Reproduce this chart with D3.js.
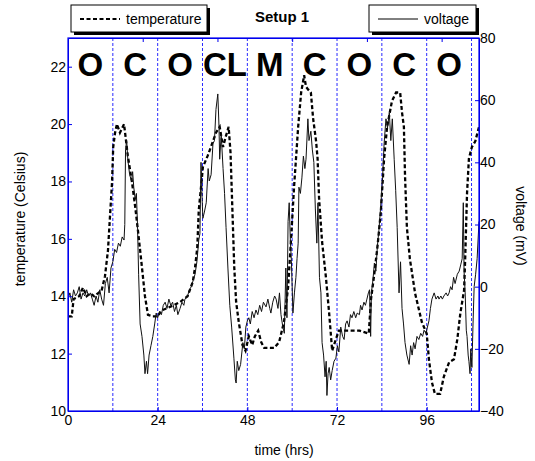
<!DOCTYPE html>
<html>
<head>
<meta charset="utf-8">
<script src="https://cdn.jsdelivr.net/npm/d3@7"></script>
<style>
  body { margin: 0; background: #fff; }
  svg { display: block; font-family: Arial, "Liberation Sans", sans-serif; }
</style>
</head>
<body>
<div id="chart"></div>
<script>
// temperature (dashed, left axis)
var tempHours = [0, 1, 1.5, 3, 4, 5, 6, 7, 8, 9, 9.9, 10.7, 11.2, 11.8, 12.1, 12.6, 13.1, 13.9, 15, 16, 17.1, 18, 18.8, 19.8, 20.6, 21.4, 22.7,
  24, 25, 26.8, 28.5, 30, 32, 33.4, 34, 34.6, 35, 35.6, 36.1, 37.4, 38.8, 39.6, 40.6, 41.5, 42.3, 43, 43.5, 44, 44.5, 45, 45.7, 46.7, 47.5,
  48.4, 49.3, 50, 50.9, 51.7, 52.5, 54, 55.2, 56.5, 57.8, 58.9, 59.7, 60.5, 61.6, 62.4, 63.2, 63.7, 64.3, 65, 65.6, 66.4, 66.8, 67.2, 68,
  69, 69.9, 70.7, 71.7, 72.5, 73.9, 76, 78, 80.5, 81.1, 82, 82.8, 83.7, 84.6, 85.4, 86.7, 87.8, 88.9, 89.4, 89.9, 90.2, 90.7, 91.5, 92.9,
  94.7, 96, 96.6, 97.4, 98.2, 99.6, 100.6, 102, 103.3, 104.2, 105, 106, 106.3, 106.8, 107.3, 108.1, 109, 110];
var tempValues = [13.3, 13.3, 13.9, 14.0, 14.3, 14.0, 14.1, 14.0, 14.1, 14.2, 14.7, 15.6, 16.7, 18.0, 19.2, 19.7, 20.0, 19.7, 20.0, 18.9, 18.0, 17.1, 16.2, 15.0, 14.0, 13.35, 13.3,
  13.3, 13.5, 13.6, 13.7, 13.8, 14.0, 14.5, 15.0, 15.7, 17.0, 17.8, 18.5, 18.9, 19.4, 19.7, 19.9, 19.2, 19.6, 19.9, 19.0, 17.0, 15.0, 13.8, 13.1, 12.3, 12.1,
  12.6, 12.3, 12.6, 12.8, 12.4, 12.2, 12.2, 12.2, 12.4, 13.1, 14.3, 16.0, 17.8, 19.9, 21.1, 21.7, 21.3, 21.2, 21.1, 20.2, 19.4, 18.8, 17.4, 15.9,
  14.7, 13.4, 12.1, 12.5, 12.8, 12.8, 12.8, 12.8, 12.7, 13.9, 14.8, 15.7, 16.9, 18.8, 19.9, 20.8, 21.1, 21.1, 20.4, 19.9, 18.2, 16.4, 15.3, 14.1,
  13.1, 12.7, 11.8, 11.0, 10.6, 10.6, 11.2, 11.7, 11.8, 12.5, 13.4, 14.2, 15.3, 17.6, 18.8, 19.2, 19.4, 19.9];

// voltage (solid, right axis)
var voltHours = [0, 0.5, 1, 1.5, 2, 2.5, 3, 3.5, 4, 4.5, 5, 5.5, 6, 6.5, 7, 7.5, 8, 8.5, 9, 9.5, 10, 10.5, 11, 11.5, 12, 12.5, 13, 13.5, 14, 14.5, 15,
  15.2, 15.4, 15.7, 16, 16.5, 17, 17.3, 17.6, 18, 18.3, 18.6, 18.9, 19.3, 19.8, 20.3, 20.6, 21, 21.3, 21.7, 22.2, 22.7, 23.2, 23.6,
  24, 24.5, 25, 25.5, 26, 26.5, 27, 27.5, 28, 28.5, 29, 29.4, 30, 30.5, 31, 31.3, 32, 32.5, 33, 33.5, 34, 34.5, 35, 35.3, 35.6, 35.9,
  36.1, 36.5, 37, 37.5, 37.8, 38.3, 38.8, 39.2, 39.6, 40.1, 40.4, 40.6, 41, 41.5, 41.9, 42.3, 42.8, 43.3, 43.8, 44.4, 44.8, 45, 45.3,
  45.7, 46.2, 46.8, 47.2, 47.6, 48, 48.4, 48.8, 49.3, 49.8, 50.3, 50.8, 51.3, 51.8, 52.3, 53, 53.5, 54, 54.3, 54.8, 55.3, 55.7, 56.2,
  56.6, 57, 57.5, 57.9, 58.3, 58.6, 58.9, 59.2, 59.5, 59.8, 60.2, 60.6, 61, 61.3, 61.6, 61.8, 62.2, 62.6, 63, 63.4, 63.7, 64.2, 64.5,
  65, 65.4, 65.8, 66.2, 66.6, 66.9, 67.3, 67.7, 68, 68.4, 68.8, 69.1, 69.3, 69.6, 69.9, 70.3, 70.7, 71.2, 71.7, 72.1, 72.5, 73, 73.5,
  73.9, 74.3, 74.7, 75.2, 75.6, 76, 76.5, 77, 77.4, 78, 78.3, 78.7, 79.2, 79.6, 80, 80.4, 80.7, 81, 81.2, 81.6, 82, 82.4, 82.8, 83.2,
  83.7, 84.2, 84.6, 85.1, 85.5, 86, 86.4, 86.8, 87.3, 87.7, 88.1, 88.6, 89, 89.4, 89.8, 90.2, 90.7, 91.3, 91.7, 92.1, 92.5, 92.9, 93.4,
  93.9, 94.4, 94.9, 95.3, 95.8, 96.2, 96.6, 97, 97.4, 98, 98.5, 99, 99.3, 99.8, 100.2, 100.6, 101.2, 101.6, 102, 102.4, 102.8, 103.2,
  103.6, 104.2, 104.7, 105.1, 105.5, 105.8, 106, 106.3, 106.6, 106.8, 107.1, 107.3, 107.6, 107.8, 108.1, 108.4, 108.7, 109.1, 109.5, 110];
var voltValues = [-4, -2, -5, -1, -3, -2, 0, -4, -2, -3, -1, -3, -2, -4, -6, -3, -5, -1, -4, -6, 1, 3, -2, 6, 8, 12, 11, 14, 13, 16, 15,
  20, 44, 47, 41, 36, 34, 37, 32, 28, 30, 20, 4, -12, -16, -22, -28, -24, -28, -22, -19, -16, -12, -8.5,
  -10, -8, -9, -6, -5, -7, -4, -6, -5, -8, -6, -9, -7, -5, -6, -4, -3, -1, 0, 2, 4, 8, 15, 17, 40, 28,
  22, 24, 27, 38, 34, 36, 46, 47, 57, 62, 52, 41, 49, 38, 30, 19, 6, -6, -13, -23, -30, -31, -24,
  -27, -25, -18, -20, -13, -11, -10, -12, -8, -10, -7.5, -9, -6, -8, -5, -6.5, -4, -7, -8.5, -5, -3, -4, -7,
  -2, -9, -13, -15, 6, -10, 21, 27, 15, 8, -8.5, -2, 3, 9, 14, 32, 30, 35, 42, 38, 41, 54, 47,
  50, 44, 40, 25, 14, 27, 3, -2, -18, -22, -29, -24, -35, -28, -26, -30, -27, -24, -23, -19, -21, -13, -16,
  -17, -12, -11, -13, -9, -10, -8, -10, -8.5, -9, -6, -7.5, -5, -6, -4, -2, -1, -16, -2, 2, 7.6, 5, 13, 18,
  26, 35, 46, 54, 51, 56, 47, 54, 41, 31, 19, -2, 8, -7, -12, -18, -22, -25, -19, -22, -18, -20, -16,
  -17, -15, -16, -14, -15, -13, -11, -7, -4, -2, -4, -3, -4, -3, -4, -3, -2, -3, -2, 0, -1, 3,
  1, 4, 5, 7, 9, 27, 5, -2, -14, -16, -22, -24, -28, -20, -26, -12, 0, 4, 9, 21];

var phaseHours = [12, 24, 36, 48, 60, 72, 84, 96, 108];
var phaseLabels = ["O", "C", "O", "CL", "M", "C", "O", "C", "O"];
var xTicks = [0, 24, 48, 72, 96];
var topTicks = [20, 40, 60, 80, 100];
var tempTicks = [10, 12, 14, 16, 18, 20, 22];
var voltTicks = [-40, -20, 0, 20, 40, 60, 80];

var W = 535, H = 461;
var L = 68, R = 479, T = 38, B = 411;
var AXIS_BLUE = "#0000ee";
var GRID_BLUE = "#2a2aff";

var x = d3.scaleLinear().domain([0, 110]).range([L, R]);
var yT = d3.scaleLinear().domain([10, 23]).range([B, T]);
var yV = d3.scaleLinear().domain([-40, 80]).range([B, T]);

var svg = d3.select("#chart").append("svg")
  .attr("width", W)
  .attr("height", H);

// phase grid lines
svg.append("g").selectAll("line")
  .data(phaseHours)
  .enter().append("line")
  .attr("x1", d => x(d)).attr("x2", d => x(d))
  .attr("y1", T).attr("y2", B)
  .attr("stroke", GRID_BLUE)
  .attr("stroke-width", 1)
  .attr("stroke-dasharray", "3,2");

// phase letters, centred in each 12 hr window
svg.append("g").selectAll("text")
  .data(phaseLabels)
  .enter().append("text")
  .attr("x", (d, i) => x(i * 12 + 6))
  .attr("y", 76)
  .attr("text-anchor", "middle")
  .style("font-size", "33px")
  .style("font-weight", "bold")
  .text(d => d);

var tempData = tempHours.map((h, i) => [h, tempValues[i]]);
var voltData = voltHours.map((h, i) => [h, voltValues[i]]);

svg.append("path")
  .datum(tempData)
  .attr("fill", "none")
  .attr("stroke", "#000")
  .attr("stroke-width", 2.3)
  .attr("stroke-dasharray", "4,2.5")
  .attr("d", d3.line().x(d => x(d[0])).y(d => yT(d[1])));

svg.append("path")
  .datum(voltData)
  .attr("fill", "none")
  .attr("stroke", "#111")
  .attr("stroke-width", 1)
  .attr("d", d3.line().x(d => x(d[0])).y(d => yV(d[1])));

// frame
svg.append("rect")
  .attr("x", L).attr("y", T)
  .attr("width", R - L).attr("height", B - T)
  .attr("fill", "none")
  .attr("stroke", AXIS_BLUE)
  .attr("stroke-width", 1.2);

function styleAxis(g) {
  g.select(".domain").attr("stroke", AXIS_BLUE);
  g.selectAll(".tick line").attr("stroke", AXIS_BLUE);
  g.selectAll(".tick text").attr("fill", "#000")
    .style("font-size", "14px")
    .style("font-family", "Arial, 'Liberation Sans', sans-serif");
}

svg.append("g")
  .attr("transform", "translate(" + L + ",0)")
  .call(d3.axisLeft(yT).tickValues(tempTicks).tickSizeInner(-4).tickSizeOuter(0).tickPadding(2))
  .call(styleAxis);

svg.append("g")
  .attr("transform", "translate(" + R + ",0)")
  .call(d3.axisRight(yV).tickValues(voltTicks).tickSizeInner(-4).tickSizeOuter(0).tickPadding(1))
  .call(styleAxis);

svg.append("g")
  .attr("transform", "translate(0," + B + ")")
  .call(d3.axisBottom(x).tickValues(xTicks).tickSizeInner(-4).tickSizeOuter(0).tickPadding(4))
  .call(styleAxis);

svg.append("g")
  .attr("transform", "translate(0," + T + ")")
  .call(d3.axisTop(x).tickValues(topTicks).tickSizeInner(-4).tickSizeOuter(0).tickFormat(""))
  .call(styleAxis);

// axis titles
svg.append("text")
  .attr("transform", "translate(25,219) rotate(-90)")
  .attr("text-anchor", "middle")
  .style("font-size", "14px")
  .text("temperature (Celsius)");

svg.append("text")
  .attr("transform", "translate(516,226) rotate(90)")
  .attr("text-anchor", "middle")
  .style("font-size", "14px")
  .text("voltage (mV)");

svg.append("text")
  .attr("x", 284).attr("y", 455)
  .attr("text-anchor", "middle")
  .style("font-size", "14px")
  .text("time (hrs)");

svg.append("text")
  .attr("x", 282).attr("y", 22)
  .attr("text-anchor", "middle")
  .style("font-size", "15px")
  .style("font-weight", "bold")
  .text("Setup 1");

// legends
function legend(x0, y0, w, label, dash) {
  var g = svg.append("g");
  g.append("rect").attr("x", x0 + 3).attr("y", y0 + 3).attr("width", w).attr("height", 27).attr("fill", "#000");
  g.append("rect").attr("x", x0).attr("y", y0).attr("width", w).attr("height", 27)
    .attr("fill", "#fff").attr("stroke", "#000").attr("stroke-width", 1);
  g.append("line")
    .attr("x1", x0 + 9).attr("x2", x0 + 49)
    .attr("y1", y0 + 14).attr("y2", y0 + 14)
    .attr("stroke", "#000")
    .attr("stroke-width", dash ? 2 : 1)
    .attr("stroke-dasharray", dash ? "4,2.5" : null);
  g.append("text")
    .attr("x", x0 + 55).attr("y", y0 + 19)
    .style("font-size", "14px")
    .text(label);
}
legend(71, 5, 136, "temperature", true);
legend(369, 5, 107, "voltage", false);
</script>
</body>
</html>
